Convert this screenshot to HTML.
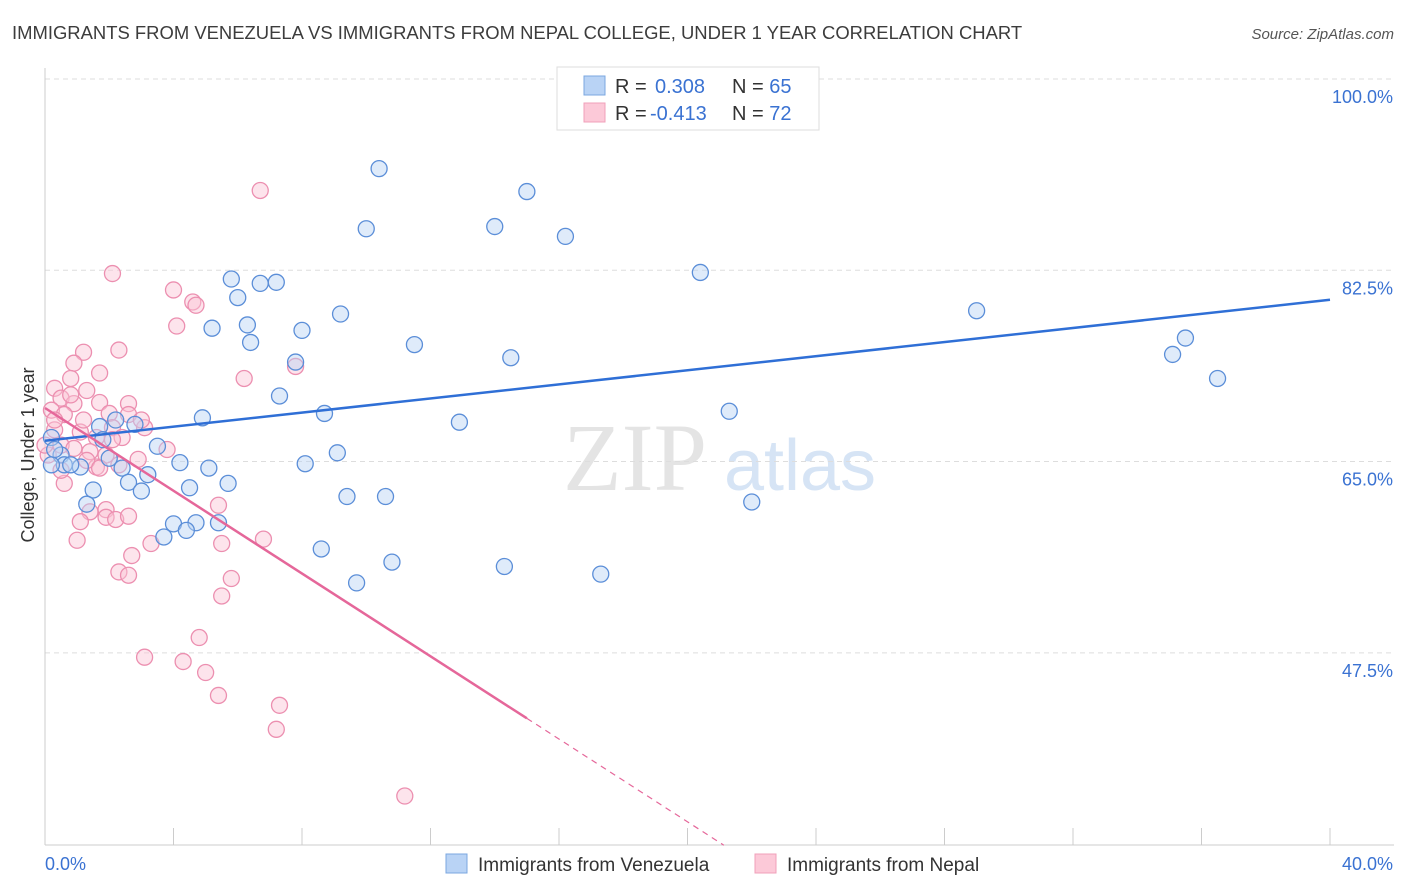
<!DOCTYPE html>
<html><head><meta charset="utf-8"><style>
body{margin:0;background:#fff;font-family:"Liberation Sans",sans-serif;}
#wrap{position:relative;width:1406px;height:892px;overflow:hidden;}
</style></head><body>
<div id="wrap">
<svg id="svg" width="1406" height="892">
<text x="12" y="39" font-size="18.45" fill="#3c3c3c">IMMIGRANTS FROM VENEZUELA VS IMMIGRANTS FROM NEPAL COLLEGE, UNDER 1 YEAR CORRELATION CHART</text>
<text x="1394" y="39" font-size="15" fill="#555" text-anchor="end" font-style="italic">Source: ZipAtlas.com</text>
<text x="635" y="490" font-size="96" fill="#e4e4e4" font-family="Liberation Serif,serif" text-anchor="middle">ZIP</text>
<text x="800" y="490" font-size="72" fill="#d6e4f5" text-anchor="middle">atlas</text>
<text transform="translate(34,455) rotate(-90)" font-size="18" fill="#333" text-anchor="middle">College, Under 1 year</text>
<g id="grid"></g><g id="marks"></g>
<g>
<rect x="557" y="67" width="262" height="63" fill="#fff" stroke="#ddd"/>
<rect x="584" y="76" width="21" height="19" fill="#b9d3f5" stroke="#7ba7e0"/>
<rect x="584" y="103" width="21" height="19" fill="#fcc9d8" stroke="#f0a0ba"/>
<text x="615" y="93" font-size="20" fill="#333">R = <tspan fill="#3a72d2" x="655">0.308</tspan><tspan x="732" fill="#333">N = </tspan><tspan fill="#3a72d2">65</tspan></text>
<text x="615" y="120" font-size="20" fill="#333">R = <tspan fill="#3a72d2" x="650">-0.413</tspan><tspan x="732" fill="#333">N = </tspan><tspan fill="#3a72d2">72</tspan></text>
</g>
<g>
<rect x="446" y="854" width="21" height="19" fill="#b9d3f5" stroke="#7ba7e0"/>
<text x="478" y="871" font-size="19" fill="#333">Immigrants from Venezuela</text>
<rect x="755" y="854" width="21" height="19" fill="#fcc9d8" stroke="#f0a0ba"/>
<text x="787" y="871" font-size="19" fill="#333">Immigrants from Nepal</text>
</g>
</svg>
</div>
<script>
const yTicks=[100,82.5,65,47.5];
const xTickLabels=["0.0%","40.0%"];
const blueX=[10.4,15.0,10.0,14.0,16.2,20.4,5.8,6.7,7.2,6.0,9.2,5.2,6.3,8.0,6.4,29.0,11.5,35.5,35.1,14.5,7.8,36.5,7.3,8.7,4.9,21.3,12.9,2.8,3.5,1.7,1.8,2.2,9.1,0.2,0.5,0.6,1.1,2.0,2.4,4.2,5.1,8.1,3.2,2.6,3.0,4.5,5.7,1.5,1.3,9.4,10.6,22.0,4.0,4.7,5.4,4.4,3.7,8.6,10.8,14.3,17.3,9.7,0.2,0.8,0.3];
const blueY=[91.8,89.7,86.3,86.5,85.6,82.3,81.7,81.3,81.4,80.0,78.5,77.2,77.5,77.0,75.9,78.8,75.7,76.3,74.8,74.5,74.1,72.6,71.0,69.4,69.0,69.6,68.6,68.4,66.4,68.2,67.0,68.8,65.8,67.2,65.6,64.7,64.5,65.3,64.4,64.9,64.4,64.8,63.8,63.1,62.3,62.6,63.0,62.4,61.1,61.8,61.8,61.3,59.3,59.4,59.4,58.7,58.1,57.0,55.8,55.4,54.7,53.9,64.7,64.7,66.1];
const pinkX=[6.7,2.1,4.0,4.6,4.7,4.1,2.3,1.2,0.9,7.8,6.2,1.7,0.8,0.3,1.3,0.5,0.9,0.2,1.7,0.6,2.6,2.0,2.6,3.1,2.1,0.3,1.1,1.6,2.4,3.8,0.5,0.9,1.4,1.9,2.9,0.1,1.6,0.6,2.3,5.4,1.4,1.9,1.9,2.2,2.6,1.1,1.0,3.3,5.5,6.8,2.7,2.3,2.6,5.8,5.5,4.8,3.1,4.3,5.0,5.4,7.3,7.2,11.2,0.3,0.0,0.5,1.3,1.7,3.0,2.1,1.2,0.8];
const pinkY=[89.8,82.2,80.7,79.6,79.3,77.4,75.2,75.0,74.0,73.7,72.6,73.1,72.6,71.7,71.5,70.8,70.3,69.7,70.4,69.3,70.3,69.4,69.3,68.1,68.1,67.9,67.7,67.2,67.2,66.1,66.5,66.2,65.9,65.6,65.2,65.6,64.5,63.0,64.7,61.0,60.4,60.6,59.9,59.7,60.0,59.5,57.8,57.5,57.5,57.9,56.4,54.9,54.6,54.3,52.7,48.9,47.1,46.7,45.7,43.6,42.7,40.5,34.4,68.8,66.5,64.2,65.1,64.4,68.8,67.0,68.8,71.1];
const blueTrend=[66.9,79.8];
const pinkTrend=[69.9,-1.893];
const pinkSolidEnd=15;
const NS="http://www.w3.org/2000/svg";
const xs=v=>45+v*32.125, ys=v=>79+(100-v)*10.93;
function mk(tag,attrs,parent){const e=document.createElementNS(NS,tag);for(const k in attrs)e.setAttribute(k,attrs[k]);parent.appendChild(e);return e;}
const grid=document.getElementById('grid'), marks=document.getElementById('marks');
yTicks.forEach(t=>{
 const l=mk('line',{x1:45,x2:1394,y1:ys(t),y2:ys(t),stroke:'#ddd','stroke-dasharray':'5,4'},grid);
 
 
 const tx=mk('text',{x:1393,y:ys(t)+24,'font-size':18,fill:'#3a72d2','text-anchor':'end'},grid);
 tx.textContent=t.toFixed(1)+'%';
 
 
});
const ax=mk('line',{x1:45,x2:1394,y1:845,y2:845,stroke:'#ccc'},grid);


const ay=mk('line',{x1:45,x2:45,y1:68,y2:845,stroke:'#ccc'},grid);


for(let i=0;i<=10;i++){const tk=mk('line',{x1:xs(i*4),x2:xs(i*4),y1:828,y2:845,stroke:'#ccc'},grid);
 
 }
[[0,'start',45],[40,'end',1393]].forEach((d,i)=>{const t=mk('text',{x:d[2],y:870,'font-size':18,fill:'#3a72d2','text-anchor':d[1]},grid);t.textContent=xTickLabels[i];
 
 });
function pts(X,Y,fill,stroke,name){X.forEach((x,i)=>{const c=mk('circle',{cx:xs(x),cy:ys(Y[i]),r:8,fill:fill,'fill-opacity':0.45,stroke:stroke,'stroke-width':1.3},marks);
 
 });}
pts(pinkX,pinkY,'#fbc4d5','#ec8fb0','nepal-point');
pts(blueX,blueY,'#b9d3f5','#5b8ed8','venezuela-point');
const bl=mk('line',{x1:xs(0),y1:ys(blueTrend[0]),x2:xs(40),y2:ys(blueTrend[1]),stroke:'#2f6fd6','stroke-width':2.5},marks);


const pl=mk('line',{x1:xs(0),y1:ys(pinkTrend[0]),x2:xs(pinkSolidEnd),y2:ys(pinkTrend[0]+pinkTrend[1]*pinkSolidEnd),stroke:'#e5679a','stroke-width':2.5},marks);


const xEnd=(29.9-pinkTrend[0])/pinkTrend[1];
const pd=mk('line',{x1:xs(pinkSolidEnd),y1:ys(pinkTrend[0]+pinkTrend[1]*pinkSolidEnd),x2:xs(xEnd),y2:ys(29.9),stroke:'#e5679a','stroke-width':1.2,'stroke-dasharray':'6,5'},marks);


</script>
</body></html>
